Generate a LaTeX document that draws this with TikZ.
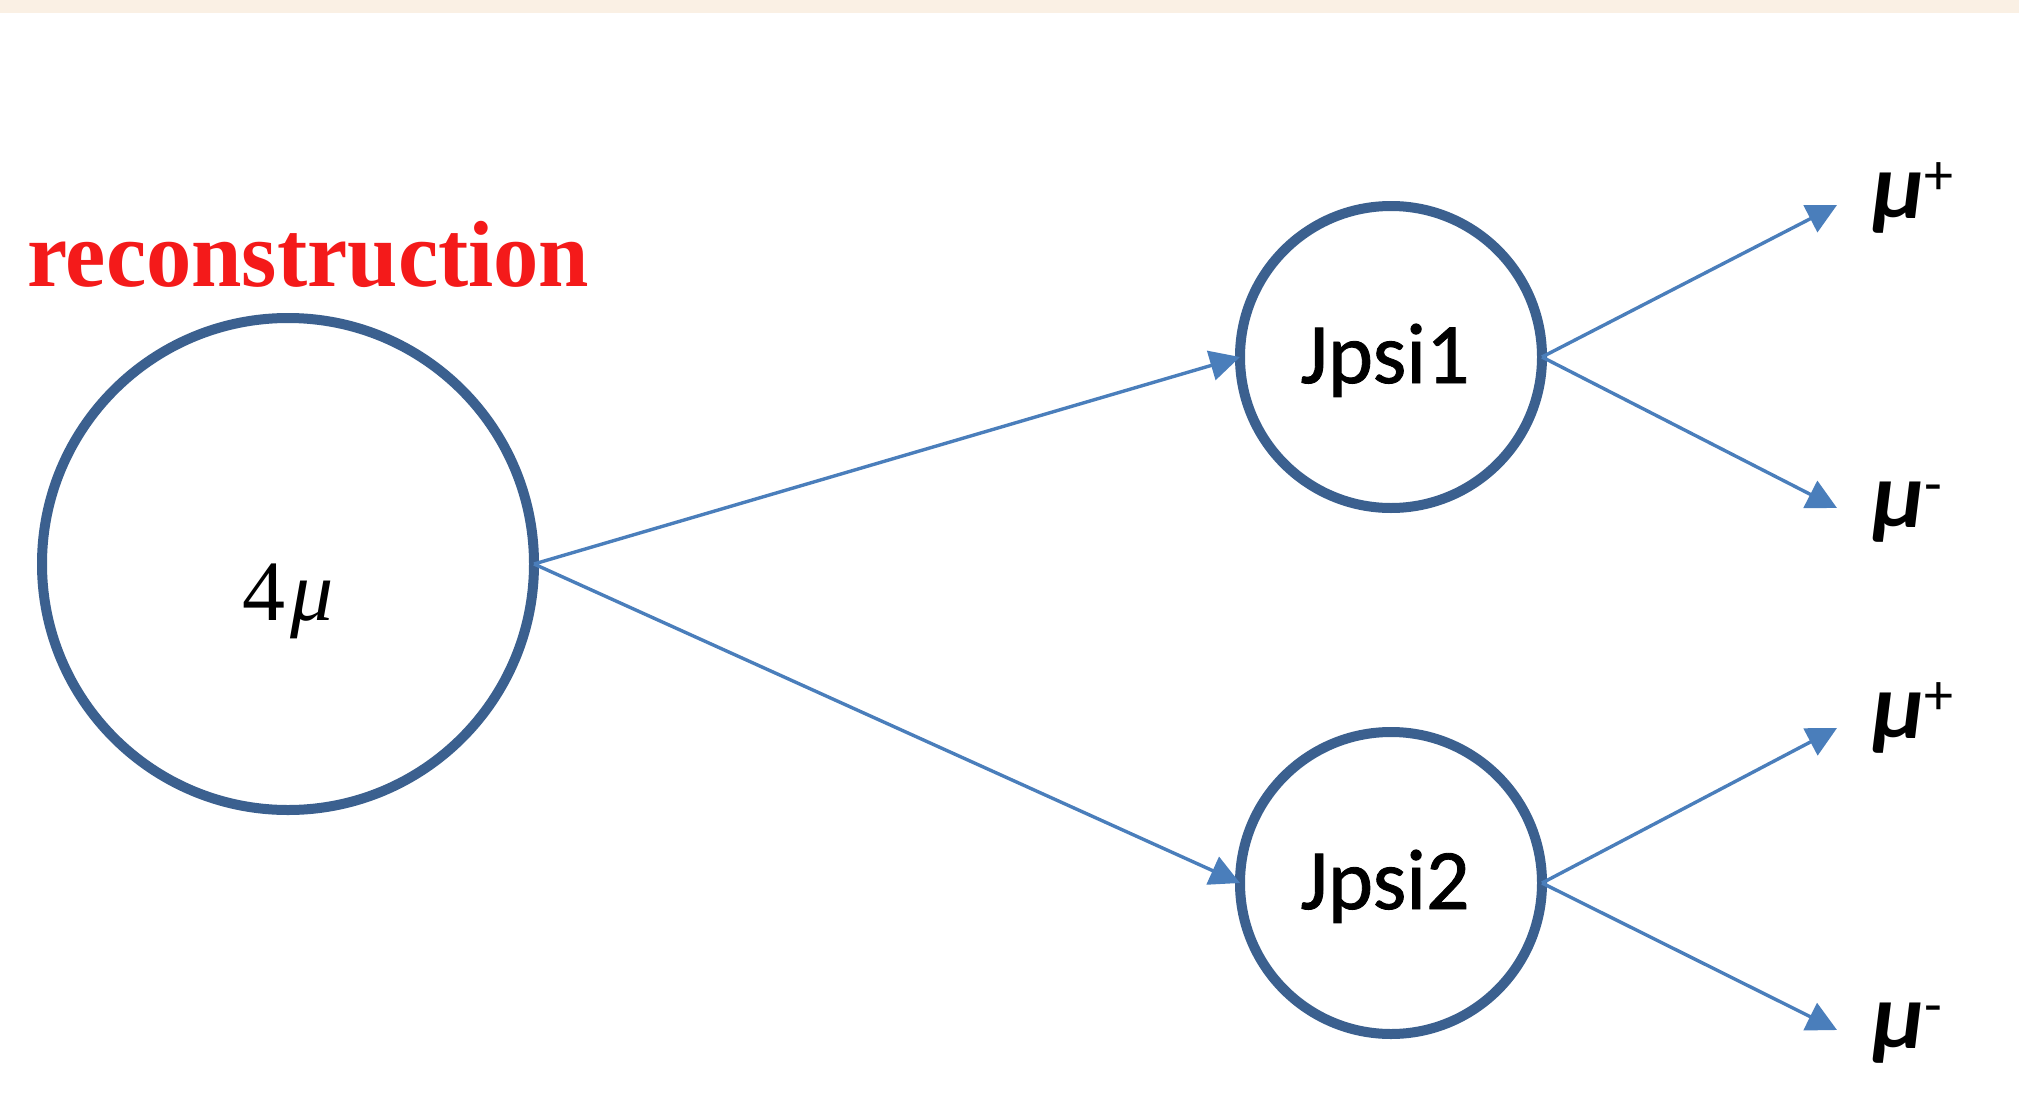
\documentclass[tikz,border=0pt]{standalone}
\usepackage{fontspec}
\usepackage{graphicx}
\setmainfont{Liberation Serif}
\newfontfamily\timesish{Liberation Serif}
\newfontfamily\carlito{Carlito}
\newfontfamily\carlitoheavy{Carlito}[FakeBold=1]
\usetikzlibrary{arrows.meta}
\definecolor{ringblue}{RGB}{59,96,143}
\definecolor{arrowblue}{RGB}{74,126,187}
\definecolor{titlered}{RGB}{244,26,26}
\definecolor{band}{RGB}{250,240,228}
% small raised charge sign after a muon symbol
\newcommand\chargesign[1]{\raisebox{24pt}{\fontsize{58}{58}\selectfont\mdseries\upshape #1}}

\begin{document}
\begin{tikzpicture}[x=1pt,y=-1pt,
  ring/.style={circle, draw=ringblue, line width=10pt, inner sep=0pt, outer sep=0pt, text depth=0pt},
  flow/.style={draw=arrowblue, line width=3.4pt, -{Triangle[length=30pt,width=30pt]}},
  mulabel/.style={anchor=base west, inner sep=0pt, font=\carlito\bfseries\itshape\fontsize{94}{94}\selectfont}]

% page and top band
\fill[white] (0,0) rectangle (2019,1108);
\fill[band] (0,0) rectangle (2019,13);
\useasboundingbox (0,0) rectangle (2019,1108);

% heading
\node[anchor=base west, inner sep=0pt, text=titlered,
      font=\bfseries\fontsize{94}{94}\selectfont] (title) at (27,286)
      {\scalebox{0.964}[1]{reconstruction}};

% particles
\node[ring, minimum size=492pt, text height=112pt, font=\timesish\fontsize{86}{86}\selectfont]
  (all) at (288,564) {4\kern5pt\textit{μ}};
\node[ring, minimum size=302pt, text height=52pt, font=\carlitoheavy\fontsize{86}{86}\selectfont]
  (jone) at (1391,357) {\hspace*{-12pt}Jpsi1};
\node[ring, minimum size=302pt, text height=52pt, font=\carlitoheavy\fontsize{86}{86}\selectfont]
  (jtwo) at (1391,883) {\hspace*{-12pt}Jpsi2};

% final-state muons
\node[mulabel] (muonep) at (1872,218) {μ\chargesign{+}};
\node[mulabel] (muonem) at (1872,527) {μ\chargesign{-}};
\node[mulabel] (muontp) at (1872,738) {μ\chargesign{+}};
\node[mulabel] (muontm) at (1872,1048) {μ\chargesign{-}};

% arrow ends beside the muon labels
\coordinate (tipep) at (1837,205);
\coordinate (tipem) at (1837,508);
\coordinate (tiptp) at (1837,728);
\coordinate (tiptm) at (1837,1030);

% decays
\draw[flow] (all.east) -- (jone.west);
\draw[flow] (all.east) -- (jtwo.west);
\draw[flow] (jone.east) -- (tipep);
\draw[flow] (jone.east) -- (tipem);
\draw[flow] (jtwo.east) -- (tiptp);
\draw[flow] (jtwo.east) -- (tiptm);
\end{tikzpicture}
\end{document}
